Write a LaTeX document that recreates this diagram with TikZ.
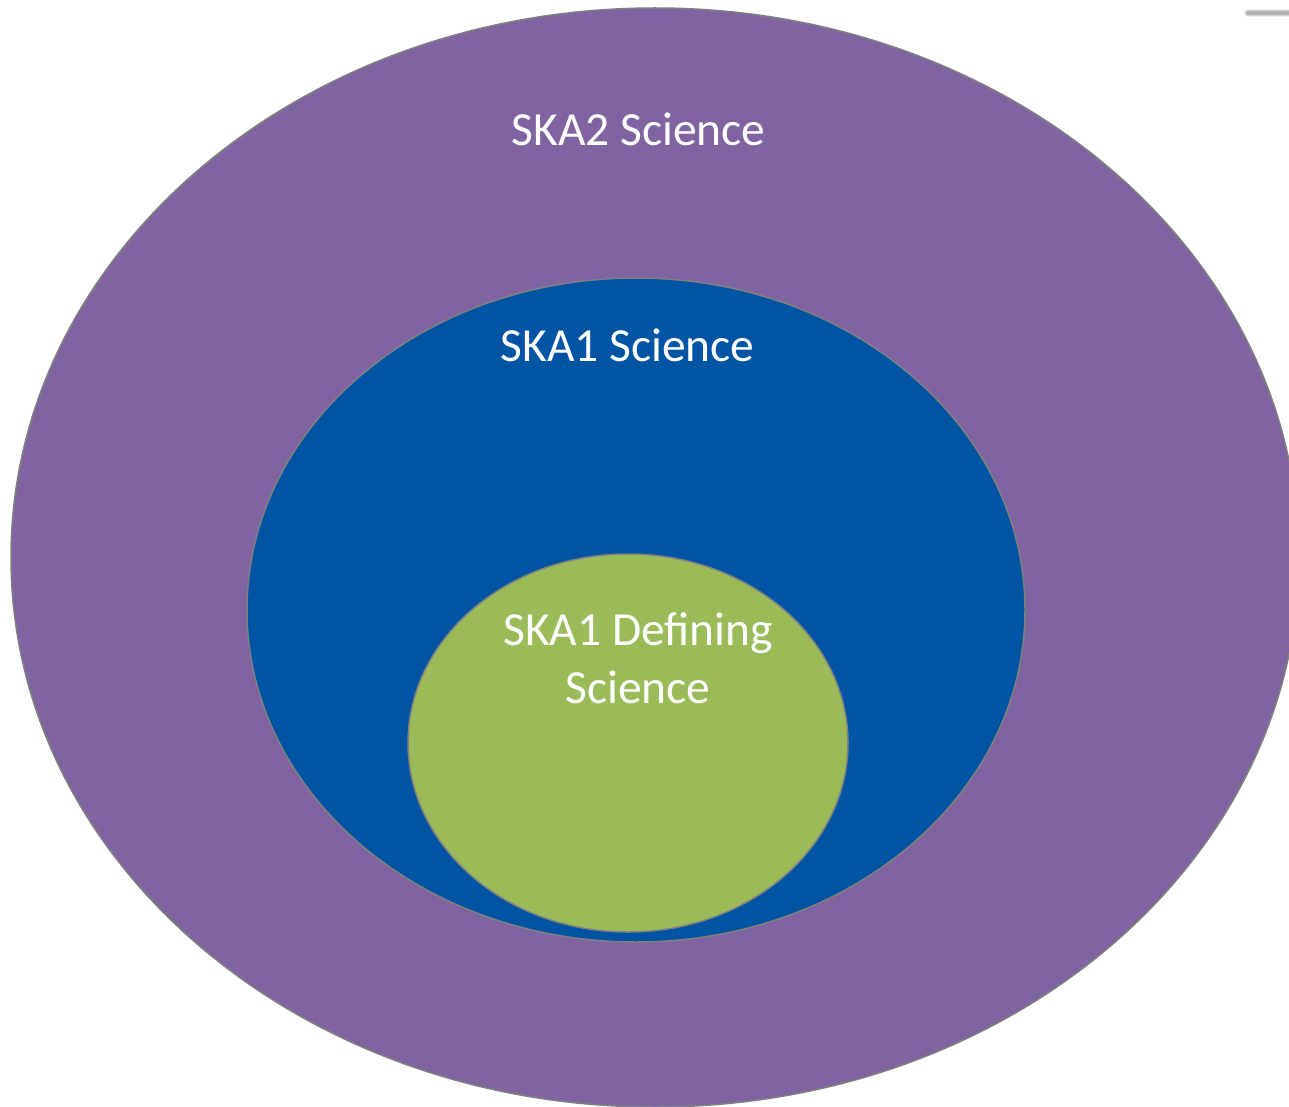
\documentclass[tikz,border=0pt]{standalone}
\usepackage{fontspec}
\setmainfont{Carlito}
\usetikzlibrary{shapes.geometric}
\definecolor{skapurple}{HTML}{8064A2}
\definecolor{skablue}{HTML}{0054A4}
\definecolor{skagreen}{HTML}{9BBB59}
\definecolor{rim}{HTML}{808080}
\tikzset{
  zone/.style={ellipse, draw=rim, line width=1.5pt, inner sep=0pt},
  label/.style={text=white, font=\fontsize{47.5}{58}\selectfont, anchor=base, inner sep=0pt, align=center}
}
\begin{document}
\begin{tikzpicture}[x=1pt,y=-1pt]
  \useasboundingbox (0,0) rectangle (1289,1107);
  \fill[white] (0,0) rectangle (1289,1107);
  \begin{scope}
    \clip (0,0) rectangle (1289,1107);
    % nested science scopes
    \node[zone, fill=skapurple, minimum width=1288pt, minimum height=1099pt] (ska2) at (655,557.5) {};
    \node[zone, fill=skablue, minimum width=778pt, minimum height=664pt] (ska1) at (636,610) {};
    \node[zone, fill=skagreen, minimum width=440pt, minimum height=378pt] (def) at (628,743) {};
  \end{scope}
  % faint shadow stroke in the corner
  \foreach \w/\o in {8/0.15,6/0.25,4/0.45}
    \draw[line width=\w pt, black!45, opacity=\o, line cap=round] (1248,13) -- (1289,13);
  % labels
  \node[label] (t2) at (638.5,146) {SKA2 Science};
  \node[label] (t1) at (627.5,361) {SKA1 Science};
  \node[label] (td1) at (638,645) {SKA1 Defining};
  \node[label] (td2) at (638,703) {Science};
\end{tikzpicture}
\end{document}
